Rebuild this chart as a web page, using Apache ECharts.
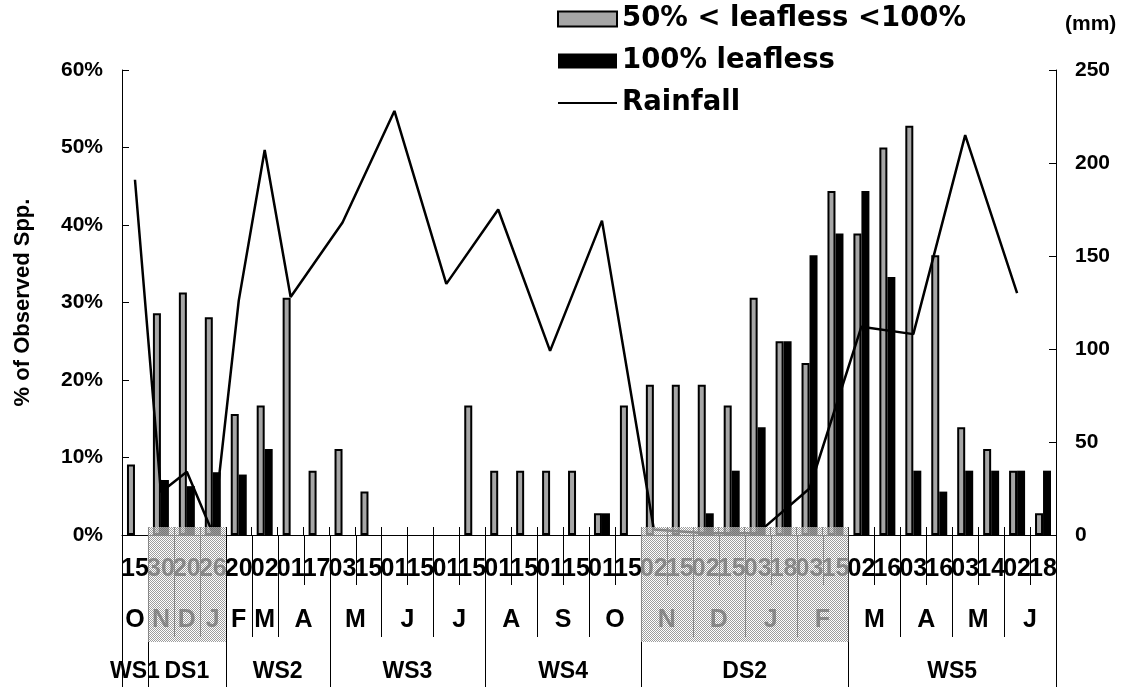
<!DOCTYPE html>
<html>
<head>
<meta charset="utf-8">
<script src="https://cdn.jsdelivr.net/npm/echarts@6/dist/echarts.min.js"></script>
<style>
  html, body { margin: 0; padding: 0; background: #fff; }
  #chart { width: 1126px; height: 687px; }
</style>
</head>
<body>
<div id="chart"></div>
<script>
// Sampling dates (day of month), one per census
const dayLabels = ['15','30','20','26','20','02','01','17','03','15','01','15','01','15','01','15','01','15',
                   '01','15','02','15','02','15','03','18','03','15','02','16','03','16','03','14','02','18'];

// % of observed species, 50% < leafless < 100%
const partLeafless = [9.1, 28.6, 31.3, 28.1, 15.6, 16.7, 30.6, 8.3, 11.1, 5.6, 0, 0, 0, 16.7, 8.3, 8.3, 8.3, 8.3,
                      2.8, 16.7, 19.4, 19.4, 19.4, 16.7, 30.6, 25.0, 22.2, 44.4, 38.9, 50.0, 52.8, 36.1, 13.9, 11.1, 8.3, 2.8];

// % of observed species, 100% leafless
const fullLeafless = [0, 7.1, 6.3, 8.1, 7.8, 11.1, 0, 0, 0, 0, 0, 0, 0, 0, 0, 0, 0, 0,
                      2.8, 0, 0, 0, 2.8, 8.3, 13.9, 25.0, 36.1, 38.9, 44.4, 33.3, 8.3, 5.6, 8.3, 8.3, 8.3, 8.3];

// Monthly rainfall (mm), recorded at one census per month
const rainfall = [191, 23, 34, 1, 126, 207, 128, null, 168, null, 228, null, 135, null, 175, null, 99, null,
                  169, null, 3, null, 1, null, 1, null, 25, null, 112, null, 108, null, 215, null, 130, null];

// Month row: initials and number of censuses in each month
const monthNames = ['O','N','D','J','F','M','A','M','J','J','A','S','O','N','D','J','F','M','A','M','J'];
const monthSpans = [1, 1, 1, 1, 1, 1, 2, 2, 2, 2, 2, 2, 2, 2, 2, 2, 2, 2, 2, 2, 2];

// Season row: wet (WS) and dry (DS) seasons, number of censuses in each
const seasonNames = ['WS1','DS1','WS2','WS3','WS4','DS2','WS5'];
const seasonSpans = [1, 3, 4, 6, 6, 8, 8];

const SERIES_PART = '50% < leafless <100%';
const SERIES_FULL = '100% leafless';
const SERIES_RAIN = 'Rainfall';

const NARROW = '"Liberation Sans Narrow", "Arial Narrow", "Liberation Sans", sans-serif';
const SANS = '"Liberation Sans", Arial, sans-serif';
const LEGEND_FONT = '"DejaVu Sans", Verdana, sans-serif';

// a census with no species in the class gets no bar at all
const asBars = values => values.map(v => (v === 0 ? null : v));

function spansToCells(spans) {
  let start = 0;
  return spans.map(n => { const cell = [start, start + n]; start += n; return cell; });
}
const dayCells = dayLabels.map((d, i) => [i, i + 1]);
const monthCells = spansToCells(monthSpans);
const seasonCells = spansToCells(seasonSpans);
const dryCells = seasonCells.filter((c, i) => seasonNames[i].indexOf('DS') === 0);

// light checker texture for the dry-season bands
const texture = document.createElement('canvas');
texture.width = 2; texture.height = 2;
(function () {
  const ctx = texture.getContext('2d');
  ctx.fillStyle = 'rgba(140,140,140,0.85)';
  ctx.fillRect(0, 0, 1, 1); ctx.fillRect(1, 1, 1, 1);
  ctx.fillStyle = 'rgba(255,255,255,0.6)';
  ctx.fillRect(1, 0, 1, 1); ctx.fillRect(0, 1, 1, 1);
})();

const crisp = x => Math.round(x) + 0.5;

// one row of the stacked category table under the x axis
function rowRenderer(names, sepLen, textDy, font) {
  return function (params, api) {
    const a = api.coord([api.value(0), 0]);
    const b = api.coord([api.value(1), 0]);
    const base = Math.round(a[1]);
    const sep = x => ({
      type: 'line',
      shape: { x1: crisp(x), y1: base, x2: crisp(x), y2: base + sepLen },
      style: { stroke: '#000', lineWidth: 1 }
    });
    const children = [];
    if (params.dataIndex === 0) children.push(sep(a[0]));
    children.push(sep(b[0]));
    if (names) {
      children.push({
        type: 'text',
        x: (a[0] + b[0]) / 2,
        y: base + textDy,
        style: { text: names[params.dataIndex], font: font, fill: '#000', align: 'center', verticalAlign: 'middle' }
      });
    }
    return { type: 'group', children: children };
  };
}

function shadeRenderer(params, api) {
  const a = api.coord([api.value(0), 0]);
  const b = api.coord([api.value(1), 0]);
  return {
    type: 'rect',
    shape: { x: a[0], y: a[1] - 8, width: b[0] - a[0], height: 115 },
    style: { fill: { image: texture, repeat: 'repeat' } }
  };
}

const axisLineStyle = { color: '#000', width: 1 };

const option = {
  animation: false,
  backgroundColor: '#fff',
  grid: { left: 122, right: 70, top: 70, bottom: 152 },
  legend: {
    orient: 'vertical',
    left: 557,
    top: 5,
    padding: 0,
    itemWidth: 59,
    itemHeight: 15,
    itemGap: 14,
    selectedMode: false,
    textStyle: { fontFamily: LEGEND_FONT, fontWeight: 'bold', fontSize: 27.5, color: '#000', lineHeight: 28 },
    data: [
      { name: SERIES_PART, icon: 'rect' },
      { name: SERIES_FULL, icon: 'rect' },
      { name: SERIES_RAIN, itemStyle: { color: 'rgba(0,0,0,0)', borderWidth: 0 } }
    ]
  },
  xAxis: [
    {
      type: 'category',
      data: dayLabels,
      axisLine: { lineStyle: axisLineStyle },
      axisTick: { show: true, inside: true, length: 8, interval: 0, lineStyle: axisLineStyle },
      axisLabel: { interval: 0, margin: 22, fontFamily: NARROW, fontWeight: 'bold', fontSize: 25, color: '#000' },
      splitLine: { show: false }
    },
    { type: 'value', min: 0, max: 36, show: false }
  ],
  yAxis: [
    {
      type: 'value', min: 0, max: 60, interval: 10, position: 'left',
      name: '% of Observed Spp.', nameLocation: 'middle', nameGap: 99,
      nameTextStyle: { fontFamily: SANS, fontWeight: 'bold', fontSize: 22, color: '#000', verticalAlign: 'middle' },
      axisLine: { show: true, lineStyle: axisLineStyle },
      axisTick: { show: true, inside: true, length: 7, lineStyle: axisLineStyle },
      axisLabel: { formatter: '{value}%', margin: 19, fontFamily: SANS, fontWeight: 'bold', fontSize: 21, color: '#000' },
      splitLine: { show: false }
    },
    {
      type: 'value', min: 0, max: 250, interval: 50, position: 'right',
      name: '(mm)', nameLocation: 'end', nameGap: 46,
      nameTextStyle: { fontFamily: SANS, fontWeight: 'bold', fontSize: 21, color: '#000', align: 'left', verticalAlign: 'middle', padding: [0, 0, 0, 9] },
      axisLine: { show: true, lineStyle: axisLineStyle },
      axisTick: { show: true, inside: true, length: 7, lineStyle: axisLineStyle },
      axisLabel: { margin: 19, fontFamily: SANS, fontWeight: 'bold', fontSize: 21, color: '#000' },
      splitLine: { show: false }
    }
  ],
  series: [
    {
      name: SERIES_PART, type: 'bar', xAxisIndex: 0, yAxisIndex: 0,
      data: asBars(partLeafless), barWidth: 8, barGap: '0%', z: 2,
      itemStyle: { color: '#a6a6a6', borderColor: '#000', borderWidth: 2 }
    },
    {
      name: SERIES_FULL, type: 'bar', xAxisIndex: 0, yAxisIndex: 0,
      data: asBars(fullLeafless), barWidth: 8, barGap: '0%', z: 2,
      itemStyle: { color: '#000' }
    },
    {
      name: SERIES_RAIN, type: 'line', xAxisIndex: 0, yAxisIndex: 1,
      data: rainfall, connectNulls: true, symbol: 'none', z: 3,
      lineStyle: { color: '#000', width: 2.5 }, itemStyle: { color: '#000' }
    },
    {
      type: 'custom', xAxisIndex: 1, yAxisIndex: 0, clip: false, silent: true, z: 2,
      data: dayCells, renderItem: rowRenderer(null, 50, 0, '')
    },
    {
      type: 'custom', xAxisIndex: 1, yAxisIndex: 0, clip: false, silent: true, z: 2,
      data: monthCells, renderItem: rowRenderer(monthNames, 102, 85, 'bold 25px ' + NARROW)
    },
    {
      type: 'custom', xAxisIndex: 1, yAxisIndex: 0, clip: false, silent: true, z: 2,
      data: seasonCells, renderItem: rowRenderer(seasonNames, 152, 137, 'bold 23px ' + NARROW)
    },
    {
      type: 'custom', xAxisIndex: 1, yAxisIndex: 0, clip: false, silent: true, z: 10,
      data: dryCells, renderItem: shadeRenderer
    }
  ]
};

const chart = echarts.init(document.getElementById('chart'), null, { renderer: 'canvas' });
chart.setOption(option);
</script>
</body>
</html>
